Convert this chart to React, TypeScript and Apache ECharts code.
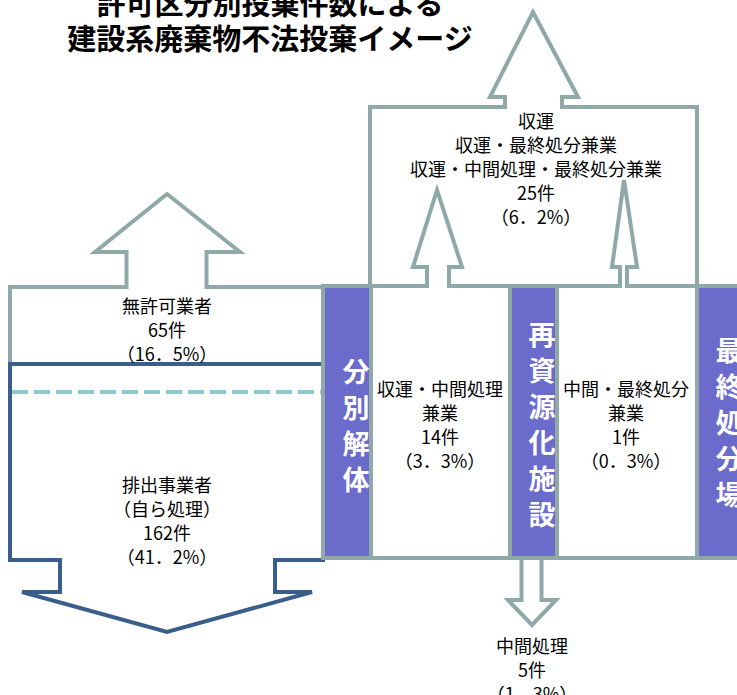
import React, { useEffect, useRef } from 'react';
import * as echarts from 'echarts';

// ---- data ----
const titleLines = ['許可区分別投棄件数による', '建設系廃棄物不法投棄イメージ'];
const categoryLabels: string[][] = [
  ['無許可業者'],
  ['排出事業者', '（自ら処理）'],
  ['収運・中間処理', '兼業'],
  ['中間・最終処分', '兼業'],
  ['収運', '収運・最終処分兼業', '収運・中間処理・最終処分兼業'],
  ['中間処理'],
];
const counts = [65, 162, 14, 1, 25, 5];
const percents = ['16．5', '41．2', '3．3', '0．3', '6．2', '1．3'];
const facilities = ['分別解体', '再資源化施設', '最終処分場'];

// ---- styling / layout ----
const GRAY = '#8FA9A9';
const BLUE = '#3A5E8C';
const PURPLE = '#6B6BCC';
const DASH = '#8CC9D0';
const FONT = '"Noto Sans CJK JP", "Noto Sans", sans-serif';

const titlePos = [
  { x: 270, y: 2 },
  { x: 270, y: 37 },
];
const labelPos = [
  { x: 167, y: 329 },
  { x: 167, y: 520 },
  { x: 440, y: 424 },
  { x: 626, y: 424 },
  { x: 536, y: 167.5 },
  { x: 532, y: 669 },
];
const facilityPos = [
  { x: 356, y: 424.5 },
  { x: 542, y: 423 },
  { x: 729, y: 421 },
];

function blockText(i: number): string {
  return [...categoryLabels[i], `${counts[i]}件`, `（${percents[i]}%）`].join('\n');
}

export default function App() {
  const ref = useRef<HTMLDivElement>(null);
  useEffect(() => {
    if (!ref.current) return;
    const chart = echarts.init(ref.current, null, { renderer: 'svg' });
    const strokeStyle = (c: string, fill = '#fff') => ({ fill, stroke: c, lineWidth: 4, lineJoin: 'miter' });
    const elements: any[] = [];

    // left gray (無許可業者) shape
    elements.push({
      type: 'polygon', z: 1,
      shape: { points: [[10, 287], [126.5, 287], [126.5, 252], [95, 252], [167, 194], [240, 252], [206.5, 252], [206.5, 287], [323, 287], [323, 364], [10, 364]] },
      style: strokeStyle(GRAY),
    });
    // blue (排出事業者) shape
    elements.push({
      type: 'polygon', z: 2,
      shape: { points: [[10, 364], [323, 364], [323, 560], [275, 560], [275, 592], [312, 592], [167, 632], [22, 592], [60, 592], [60, 560], [10, 560]] },
      style: strokeStyle(BLUE),
    });
    elements.push({
      type: 'line', z: 3,
      shape: { x1: 12, y1: 392, x2: 321, y2: 392 },
      style: { stroke: DASH, lineWidth: 4, lineDash: [16, 6] },
    });

    // down arrow from 再資源化施設
    elements.push({
      type: 'polygon', z: 1,
      shape: { points: [[521.5, 558], [521.5, 600], [508, 600], [532, 625], [556, 600], [541.5, 600], [541.5, 558]] },
      style: strokeStyle(GRAY),
    });

    // lower row cells
    const cells = [
      { x: 323, w: 48, fill: PURPLE },
      { x: 371, w: 139, fill: '#fff' },
      { x: 510, w: 47, fill: PURPLE },
      { x: 557, w: 140, fill: '#fff' },
      { x: 697, w: 100, fill: PURPLE },
    ];
    cells.forEach((c) => {
      elements.push({
        type: 'rect', z: 4,
        shape: { x: c.x, y: 286, width: c.w, height: 272 },
        style: strokeStyle(GRAY, c.fill),
      });
    });
    // open the arrow shafts
    elements.push({ type: 'rect', z: 5, shape: { x: 429, y: 282, width: 18, height: 8 }, style: { fill: '#fff' } });
    elements.push({ type: 'rect', z: 5, shape: { x: 622, y: 282, width: 3, height: 8 }, style: { fill: '#fff' } });

    // upper shape
    elements.push({
      type: 'polygon', z: 6,
      shape: {
        points: [
          [370, 286], [370, 107], [505, 107], [505, 97], [490, 97], [533, 12], [578, 97], [562, 97], [562, 107], [697, 107], [697, 286],
          [627, 286], [627, 267], [637, 267], [624, 180], [612, 267], [620, 267], [620, 286],
          [449, 286], [449, 267], [462, 267], [437, 190], [413, 267], [427, 267], [427, 286],
        ],
      },
      style: strokeStyle(GRAY),
    });

    // title (two lines)
    titleLines.forEach((t, i) => {
      elements.push({
        type: 'text', z: 10, x: titlePos[i].x, y: titlePos[i].y,
        style: {
          text: t, fill: '#000', fontSize: 29, fontWeight: 'bold', fontFamily: FONT,
          align: 'center', verticalAlign: 'middle', textAlign: 'center', textVerticalAlign: 'middle',
        },
      });
    });

    // category labels
    labelPos.forEach((p, i) => {
      elements.push({
        type: 'text', z: 10, x: p.x, y: p.y,
        style: {
          text: blockText(i), fill: '#000', fontSize: 18, fontFamily: FONT,
          lineHeight: 24, align: 'center', verticalAlign: 'middle', textAlign: 'center', textVerticalAlign: 'middle',
        },
      });
    });

    // facility vertical labels
    facilityPos.forEach((p, i) => {
      elements.push({
        type: 'text', z: 10, x: p.x, y: p.y,
        style: {
          text: facilities[i].split('').join('\n'), fill: '#fff', fontSize: 27, fontWeight: 'bold', fontFamily: FONT,
          lineHeight: 36, align: 'center', verticalAlign: 'middle', textAlign: 'center', textVerticalAlign: 'middle',
        },
      });
    });

    chart.setOption({ animation: false, graphic: { elements } });
    return () => chart.dispose();
  }, []);
  return (
    <div
      ref={ref}
      style={{ position: 'fixed', left: 0, top: 0, width: 737, height: 695, background: '#fff' }}
    />
  );
}
